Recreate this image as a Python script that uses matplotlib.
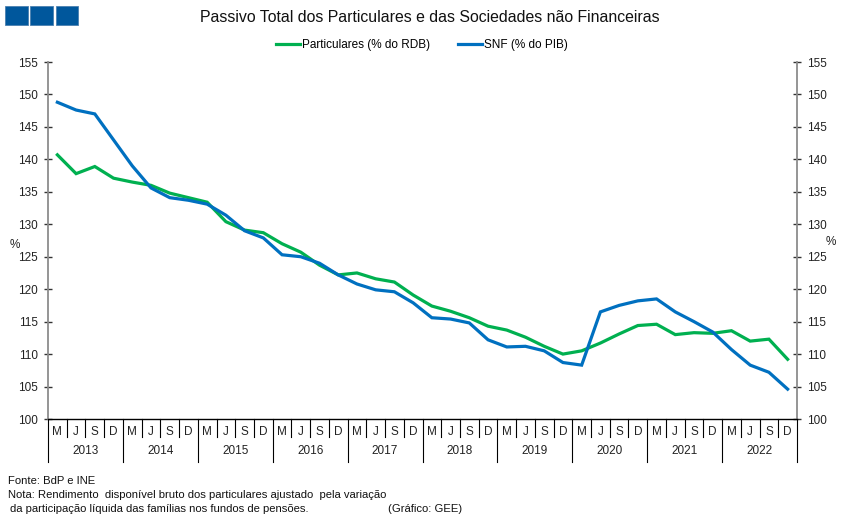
import matplotlib
matplotlib.use("Agg")
import matplotlib.pyplot as plt
from matplotlib.patches import Rectangle
import matplotlib.transforms as mtransforms

plt.rcParams['font.family'] = ['Liberation Sans', 'DejaVu Sans']

years = ['2013', '2014', '2015', '2016', '2017', '2018', '2019', '2020', '2021', '2022']
quarters = ['M', 'J', 'S', 'D']

particulares = [140.7, 137.8, 138.9, 137.1,
                136.5, 136.0, 134.8, 134.1,
                133.4, 130.4, 129.1, 128.7,
                127.0, 125.7, 123.7, 122.2,
                122.5, 121.6, 121.1, 119.1,
                117.4, 116.6, 115.6, 114.3,
                113.7, 112.6, 111.2, 110.0,
                110.5, 111.7, 113.1, 114.4,
                114.6, 113.0, 113.3, 113.2,
                113.6, 112.0, 112.3, 109.2]

snf = [148.8, 147.6, 147.0, 143.0,
       139.0, 135.6, 134.1, 133.7,
       133.1, 131.4, 129.0, 127.9,
       125.3, 125.0, 124.0, 122.2,
       120.8, 119.9, 119.6, 117.9,
       115.6, 115.4, 114.8, 112.2,
       111.1, 111.2, 110.5, 108.7,
       108.3, 116.5, 117.5, 118.2,
       118.5, 116.5, 115.0, 113.4,
       110.7, 108.3, 107.2, 104.6]

green = '#00B050'
blue = '#0070C0'

fig = plt.figure(figsize=(8.51, 5.23), dpi=100)
W, H = 851, 523
left, right, top, bottom = 48, 797, 62, 419
ax = fig.add_axes([left / W, 1 - bottom / H, (right - left) / W, (bottom - top) / H])

n = len(particulares)
x = list(range(n))
ax.plot(x, particulares, color=green, lw=2.3, label='Particulares (% do RDB)', solid_joinstyle='miter')
ax.plot(x, snf, color=blue, lw=2.3, label='SNF (% do PIB)', solid_joinstyle='miter')

ax.set_xlim(-0.5, n - 0.5)
ax.set_ylim(100, 155)
ax.set_yticks(range(100, 156, 5))

ax.spines['top'].set_visible(False)
ax.spines['left'].set_color('#8c8c8c')
ax.spines['right'].set_color('#8c8c8c')
ax.spines['left'].set_linewidth(1.3)
ax.spines['right'].set_linewidth(1.3)
ax.spines['bottom'].set_color('black')
ax.spines['bottom'].set_linewidth(1.0)

ax.tick_params(axis='y', which='both', direction='inout', length=6, width=1, color='#333333',
               labelsize=8.5, labelcolor='#222222', left=True, right=True, labelleft=True, labelright=True, pad=4)

# category axis
ax.set_xticks(x)
ax.set_xticklabels([quarters[i % 4] for i in x], fontsize=8.5, color='#222222')
ax.tick_params(axis='x', length=0, pad=5)

trans = mtransforms.blended_transform_factory(ax.transData, ax.transAxes)
ah = bottom - top
for i in range(n + 1):
    xb = i - 0.5
    ylow = -43 / ah if i % 4 == 0 else -18 / ah
    ax.plot([xb, xb], [0, ylow], color='black', lw=0.8, transform=trans, clip_on=False)
for k, yr in enumerate(years):
    ax.text(4 * k + 1.5, -32 / ah, yr, transform=trans, ha='center', va='center', fontsize=8.5, color='#222222')

# % labels
fig.text(15 / W, 1 - 245 / H, '%', fontsize=8.5, ha='center', va='center', color='#222222')
fig.text(831 / W, 1 - 242 / H, '%', fontsize=8.5, ha='center', va='center', color='#222222')

# title
fig.text(430 / W, 1 - 18 / H, 'Passivo Total dos Particulares e das Sociedades não Financeiras',
         fontsize=11.4, ha='center', va='center', color='#111111')

# legend
fig.legend(loc='center', bbox_to_anchor=(422 / W, 1 - 45 / H), ncol=2, frameon=False,
           fontsize=8.5, handlelength=2.0, columnspacing=2.4, handletextpad=0.15)

# logo
for k in range(3):
    fig.patches.append(Rectangle(((5 + 25.3 * k) / W, 1 - 25 / H), 22.5 / W, 19.5 / H,
                                 transform=fig.transFigure, facecolor='#00579C',
                                 edgecolor='#4a7fb0', lw=0.6))

# footnotes
fs = 8.15
fig.text(8 / W, 1 - 481 / H, 'Fonte: BdP e INE', fontsize=fs, va='center', color='#111111')
fig.text(8 / W, 1 - 495 / H, 'Nota: Rendimento  disponível bruto dos particulares ajustado  pela variação',
         fontsize=fs, va='center', color='#111111')
fig.text(10 / W, 1 - 509 / H, 'da participação líquida das famílias nos fundos de pensões.',
         fontsize=fs, va='center', color='#111111')
fig.text(388 / W, 1 - 509 / H, '(Gráfico: GEE)', fontsize=fs, va='center', color='#111111')

fig.savefig('out.png', dpi=100)
